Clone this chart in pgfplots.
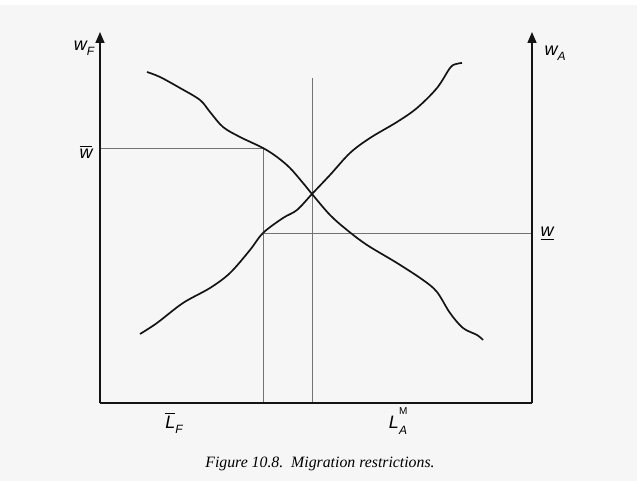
\documentclass[border=0pt]{standalone}
\usepackage{pgfplots}
\pgfplotsset{compat=1.18}
\usepackage{fontspec}
\setmainfont{Liberation Serif}
\newfontfamily\labelfont{Liberation Sans}
\usetikzlibrary{arrows.meta}

\definecolor{paper}{gray}{0.965}
\definecolor{ink}{gray}{0.08}
\definecolor{guide}{gray}{0.45}

% bar above / below a letter, set a little apart from it
\newdimen\barwd
\newcommand\barabove[1]{\setbox0\hbox{#1}\barwd=\wd0\vbox{\hrule height 1pt width \barwd \kern 2.5pt \box0}}
\newcommand\barbelow[1]{\setbox0\hbox{#1}\barwd=\wd0\vtop{\box0 \kern 2.5pt \hrule height 1pt width \barwd}}
\newcommand\lblsize{\fontsize{18}{20}\selectfont}
\newcommand\subsize{\fontsize{12}{14}\selectfont}

\begin{document}
\begin{tikzpicture}
\begin{axis}[
  x=1pt, y=1pt,
  xmin=-100, xmax=537, ymin=-78, ymax=403,
  hide axis, clip=false,
  scale only axis,
]
% page background
\fill[paper] (axis cs:-100,-78) rectangle (axis cs:537,403);
\fill[white] (axis cs:-100,398) rectangle (axis cs:537,403);

% guide lines at the restricted wages and employment levels
\addplot[guide, line width=0.7pt] coordinates {(0,255) (163,255) (163,0)};
\addplot[guide, line width=0.7pt] coordinates {(163,170) (432,170)};
\addplot[guide, line width=0.7pt] coordinates {(212,0) (212,325)};

% frame: two wage axes and the labour box floor
\addplot[ink, line width=1.5pt, -{Triangle[length=11pt,width=9pt]}] coordinates {(0,0) (0,371)};
\addplot[ink, line width=1.5pt, -{Triangle[length=11pt,width=9pt]}] coordinates {(432,0) (432,371)};
\addplot[ink, line width=1.5pt] coordinates {(0,0) (432,0)};

% labour demand in F (falling)
\addplot[ink, line width=1.7pt, smooth, tension=0.55] coordinates {
  (47,331) (60,326) (80,315) (100,303) (110,291) (123,276) (140,266)
  (163,255) (177,246) (190,235) (203,220) (212,209) (230,188) (247,173)
  (267,158) (297,140) (323,123) (337,111) (350,90) (363,75) (377,68) (383,63)
};
% labour demand in A, measured from the right (rising)
\addplot[ink, line width=1.7pt, smooth, tension=0.55] coordinates {
  (40,69) (57,80) (83,100) (110,115) (130,130) (150,153) (163,170)
  (183,185) (197,193) (212,209) (230,228) (250,250) (270,265) (297,281)
  (317,295) (337,315) (350,335) (356,339) (362,340)
};

% axis and level labels
\node[font=\labelfont\lblsize] at (axis cs:-16,355)
  {\itshape w\raisebox{-0.5ex}{\subsize F}};
\node[font=\labelfont\lblsize] at (axis cs:455,350)
  {\itshape w\raisebox{-0.5ex}{\subsize A}};
\node[font=\labelfont\lblsize, anchor=base] at (axis cs:-14,244)
  {\barabove{\itshape w}};
\node[font=\labelfont\lblsize, anchor=base] at (axis cs:447,166)
  {\barbelow{\itshape w}};
\node[font=\labelfont\lblsize, anchor=base] at (axis cs:74,-26)
  {\barabove{\itshape L}\raisebox{-0.5ex}{\subsize\itshape F}};
\node[font=\labelfont\lblsize, anchor=base] at (axis cs:298,-26)
  {\itshape L\makebox[0pt][l]{\raisebox{1.5ex}{\fontsize{10}{12}\selectfont\upshape M}}\raisebox{-0.55ex}{\subsize A}};

% caption
\node[font=\fontsize{15.8}{18}\selectfont\itshape] at (axis cs:220,-61)
  {Figure 10.8.\ \ Migration restrictions.};
\end{axis}
\end{tikzpicture}
\end{document}
